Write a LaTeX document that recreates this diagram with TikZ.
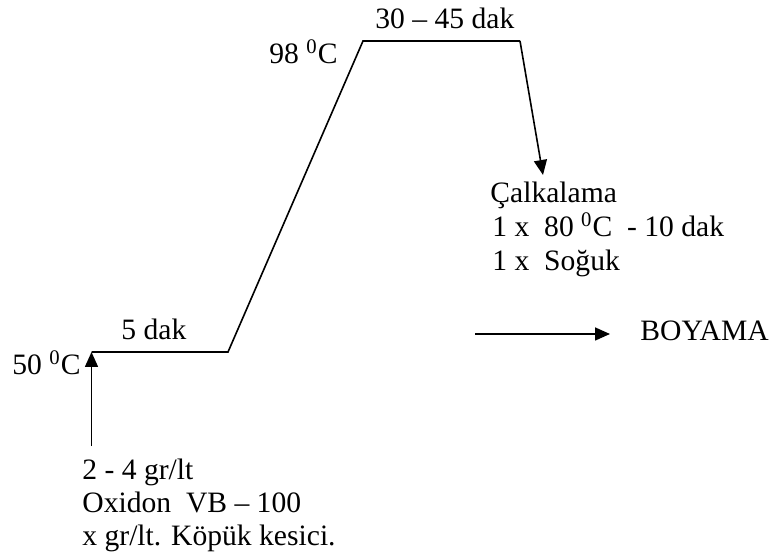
\documentclass[tikz,border=0pt]{standalone}
\usepackage{fontspec}
\setmainfont{Liberation Serif}
\usetikzlibrary{arrows.meta}

\begin{document}
\begin{tikzpicture}[x=0.5pt, y=-0.5pt,
    lbl/.style={anchor=base west, inner sep=0pt, font=\fontsize{14.8}{16.75}\selectfont},
    prof/.style={line width=0.8pt},
    arr/.style={line width=0.8pt, -{Triangle[length=7.5pt, width=6.5pt]}}]

        \useasboundingbox (0,0) rectangle (775,560);

        % Profile corners
        \coordinate (p1) at (91.5,352);
        \coordinate (p2) at (228,352);
        \coordinate (p3) at (363,41);
        \coordinate (p4) at (520,41);
        \coordinate (feed) at (91.5,446);
        \coordinate (rinse) at (543,175);
        \coordinate (b0) at (475,334);
        \coordinate (b1) at (610,334);

        % Labels
        \node[lbl] (t45) at (375,29) {30 – 45 dak};
        \node[lbl] (t98) at (269,64) {98 \textsuperscript{0}C};
        \node[lbl] (t5) at (121,340) {5 dak};
        \node[lbl] (t50) at (12,375) {50 \textsuperscript{0}C};
        \node[lbl] (calk) at (490,203) {Çalkalama};
        \node[lbl] (calk2) at (492,237) {1 x\ \ 80 \textsuperscript{0}C\ \ - 10 dak};
        \node[lbl] (calk3) at (492,271) {1 x\ \ Soğuk};
        \node[lbl] (boy) at (640,341) {BOYAMA};
        \node[lbl] (chem1) at (82,479) {2 - 4 gr/lt};
        \node[lbl] (chem2) at (82,512) {Oxidon\ \ VB – 100};
        \node[lbl] (chem3) at (82,545) {x gr/lt. Köpük kesici.};

        % Edges
        \draw[prof] (p1) -- (p2) -- (p3) -- (p4);
        \draw[arr] (p4) -- (rinse);
        \draw[arr] (feed) -- (p1);
        \draw[arr] (b0) -- (b1);

\end{tikzpicture}
\end{document}
